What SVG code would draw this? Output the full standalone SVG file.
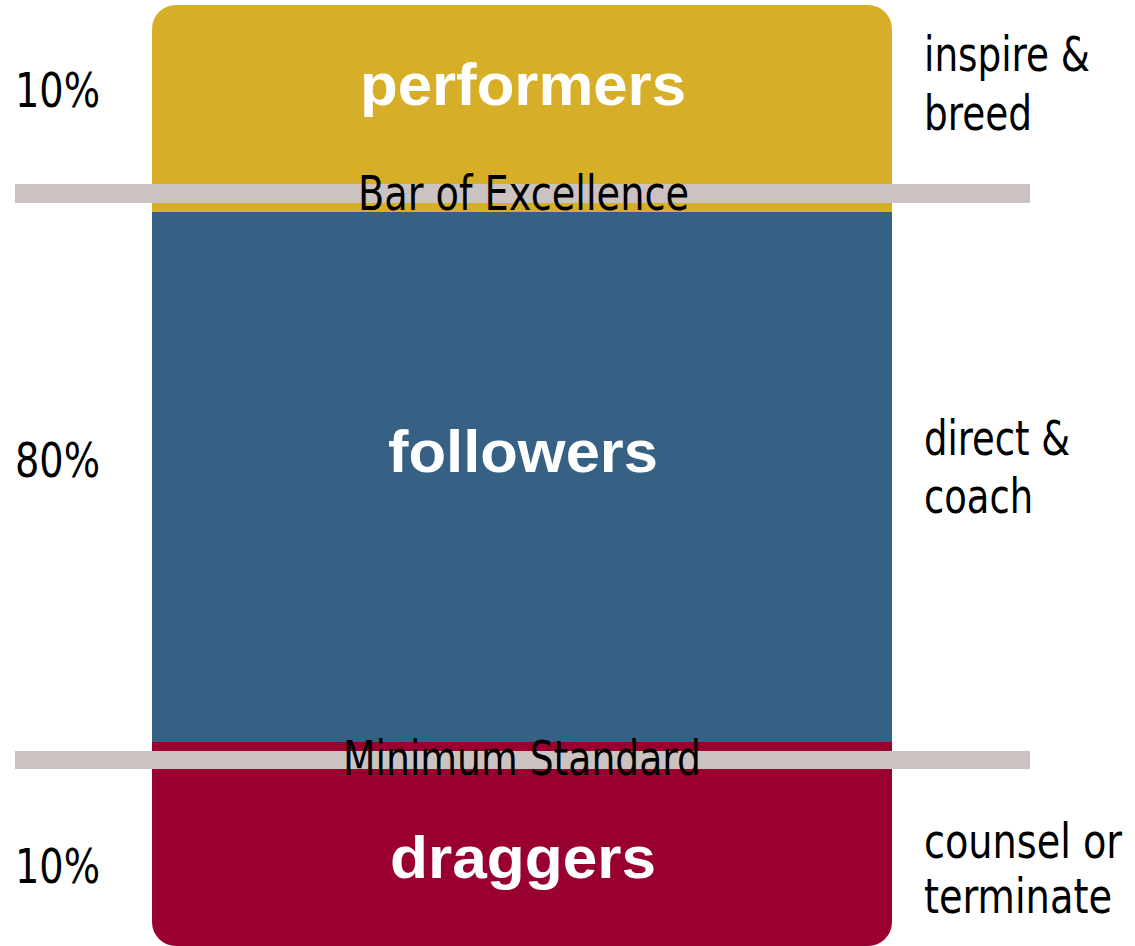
<svg xmlns="http://www.w3.org/2000/svg" width="1135" height="946" viewBox="0 0 1135 946">
<style>
.side{font-family:"DejaVu Sans","Liberation Sans Narrow",sans-serif;font-stretch:condensed;font-size:48px;fill:#000}
.band{font-family:"Liberation Sans",Arial,sans-serif;font-weight:bold;font-size:59px;fill:#fff;text-anchor:middle}
.bar{fill:#CBC3C1}
</style>
<defs>
<clipPath id="box"><rect x="152" y="5" width="740" height="941" rx="24" ry="24"/></clipPath>
</defs>
<rect width="1135" height="946" fill="#fff"/>
<g clip-path="url(#box)">
<g id="performers"><rect x="152" y="5" width="740" height="207" fill="#D6AE28"/></g>
<g id="followers"><rect x="152" y="212" width="740" height="530" fill="#366184"/></g>
<g id="draggers"><rect x="152" y="742" width="740" height="204" fill="#990030"/></g>
</g>
<g id="bars">
<rect class="bar" x="15" y="184" width="1015" height="19"/>
<rect class="bar" x="15" y="751" width="1015" height="18"/>
</g>
<g id="band-labels">
<text class="band" x="523" y="105" textLength="326" lengthAdjust="spacingAndGlyphs">performers</text>
<text class="band" x="523" y="472" textLength="270" lengthAdjust="spacingAndGlyphs">followers</text>
<text class="band" x="523" y="878" textLength="266" lengthAdjust="spacingAndGlyphs">draggers</text>
</g>
<g id="bar-labels">
<text class="side" x="358" y="210" textLength="331" lengthAdjust="spacingAndGlyphs">Bar of Excellence</text>
<text class="side" x="343" y="775" textLength="358" lengthAdjust="spacingAndGlyphs">Minimum Standard</text>
</g>
<g id="percent-labels">
<text class="side" x="15" y="107" textLength="85" lengthAdjust="spacingAndGlyphs">10%</text>
<text class="side" x="15" y="477" textLength="85" lengthAdjust="spacingAndGlyphs">80%</text>
<text class="side" x="15" y="883" textLength="85" lengthAdjust="spacingAndGlyphs">10%</text>
</g>
<g id="action-labels">
<text class="side" x="924" y="71" textLength="166" lengthAdjust="spacingAndGlyphs">inspire &amp;</text>
<text class="side" x="924" y="130" textLength="108" lengthAdjust="spacingAndGlyphs">breed</text>
<text class="side" x="924" y="455" textLength="146" lengthAdjust="spacingAndGlyphs">direct &amp;</text>
<text class="side" x="924" y="513" textLength="109" lengthAdjust="spacingAndGlyphs">coach</text>
<text class="side" x="924" y="858" textLength="198" lengthAdjust="spacingAndGlyphs">counsel or</text>
<text class="side" x="924" y="913" textLength="188" lengthAdjust="spacingAndGlyphs">terminate</text>
</g>
</svg>
